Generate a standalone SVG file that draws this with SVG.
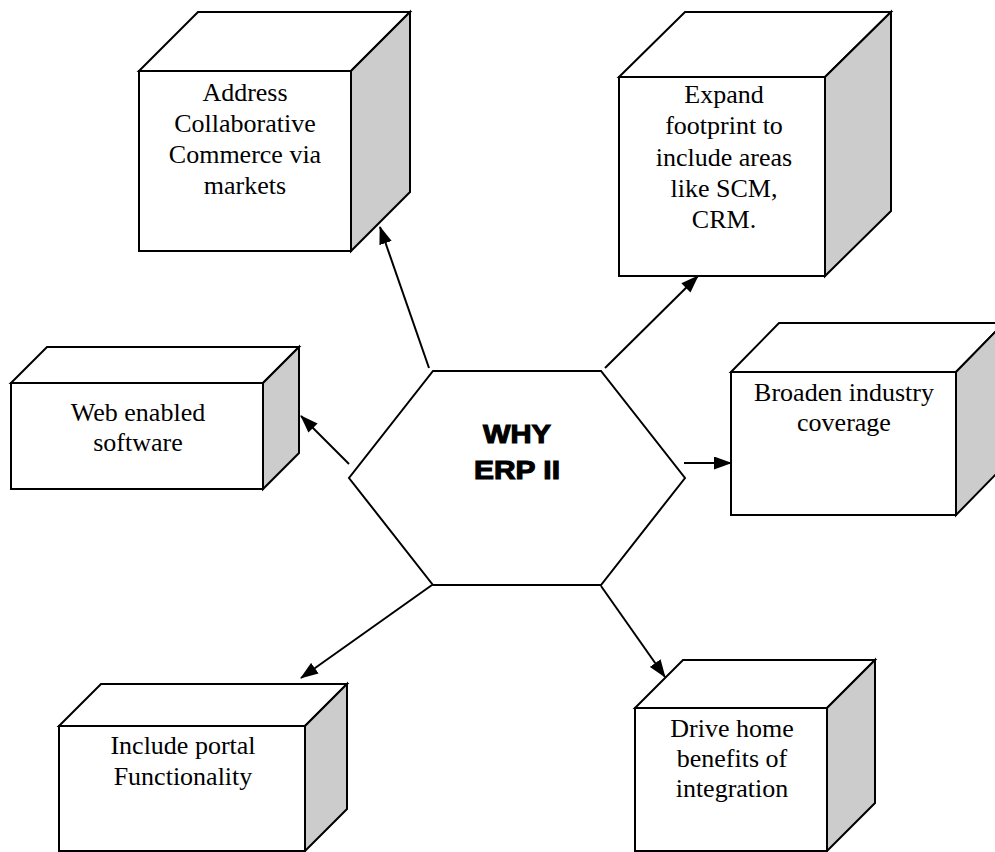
<svg xmlns="http://www.w3.org/2000/svg" width="995" height="852" viewBox="0 0 995 852">
<style>
.face{fill:#ffffff;stroke:#000;stroke-width:2;stroke-linejoin:miter}
.side{fill:#cccccc;stroke:#000;stroke-width:2}
.lbl{font-family:"Liberation Serif","Times New Roman",serif;font-size:26px;fill:#000;text-anchor:middle}
.hex{font-family:"Liberation Sans",Arial,sans-serif;font-weight:bold;font-size:26.5px;fill:#000;stroke:#000;stroke-width:1.1;text-anchor:middle}
.conn{stroke:#000;stroke-width:2;fill:none;marker-end:url(#ah)}
</style>
<defs>
<marker id="ah" markerUnits="userSpaceOnUse" markerWidth="18" markerHeight="13" refX="17" refY="6.5" orient="auto">
<path d="M0,0 L18,6.5 L0,13 z" fill="#000"/>
</marker>
</defs>
<rect width="995" height="852" fill="#fff"/>
<g id="connectors">
<line class="conn" x1="429" y1="368" x2="380" y2="227"/>
<line class="conn" x1="605" y1="368" x2="698" y2="276"/>
<line class="conn" x1="349" y1="464" x2="301" y2="416"/>
<line class="conn" x1="684" y1="463" x2="731" y2="463"/>
<line class="conn" x1="432" y1="585" x2="301" y2="678"/>
<line class="conn" x1="601" y1="586" x2="665" y2="677"/>
</g>
<g id="center">
<polygon class="face" points="433,371 601,371 685,478 601,585 433,585 349,478"/>
<text class="hex" x="517" y="443" textLength="68" lengthAdjust="spacingAndGlyphs">WHY</text>
<text class="hex" x="517" y="479" textLength="86" lengthAdjust="spacingAndGlyphs">ERP II</text>
</g>
<g id="n-address">
<polygon class="face" points="139,71 198,12 410,12 351,71"/>
<polygon class="side" points="351,71 410,12 410,192 351,251"/>
<rect class="face" x="139" y="71" width="212" height="180"/>
<text class="lbl" x="245" y="101">Address</text>
<text class="lbl" x="245" y="132">Collaborative</text>
<text class="lbl" x="245" y="163">Commerce via</text>
<text class="lbl" x="245" y="194">markets</text>
</g>
<g id="n-expand">
<polygon class="face" points="619,77 685,12 891,12 825,77"/>
<polygon class="side" points="825,77 891,12 891,211 825,276"/>
<rect class="face" x="619" y="77" width="206" height="199"/>
<text class="lbl" x="724" y="103">Expand</text>
<text class="lbl" x="724" y="134">footprint to</text>
<text class="lbl" x="724" y="166">include areas</text>
<text class="lbl" x="724" y="197">like SCM,</text>
<text class="lbl" x="724" y="228">CRM.</text>
</g>
<g id="n-web">
<polygon class="face" points="11,383 47,347 299,347 263,383"/>
<polygon class="side" points="263,383 299,347 299,453 263,489"/>
<rect class="face" x="11" y="383" width="252" height="106"/>
<text class="lbl" x="138" y="421">Web enabled</text>
<text class="lbl" x="138" y="451">software</text>
</g>
<g id="n-broaden">
<polygon class="face" points="731,372 779,323 1004,323 956,372"/>
<polygon class="side" points="956,372 1004,323 1004,466 956,515"/>
<rect class="face" x="731" y="372" width="225" height="143"/>
<text class="lbl" x="844" y="401">Broaden industry</text>
<text class="lbl" x="844" y="431">coverage</text>
</g>
<g id="n-portal">
<polygon class="face" points="59,726 101,684 347,684 305,726"/>
<polygon class="side" points="305,726 347,684 347,809 305,851"/>
<rect class="face" x="59" y="726" width="246" height="125"/>
<text class="lbl" x="183" y="754">Include portal</text>
<text class="lbl" x="183" y="785">Functionality</text>
</g>
<g id="n-drive">
<polygon class="face" points="635,708 683,660 875,660 827,708"/>
<polygon class="side" points="827,708 875,660 875,803 827,851"/>
<rect class="face" x="635" y="708" width="192" height="143"/>
<text class="lbl" x="732" y="737">Drive home</text>
<text class="lbl" x="732" y="767">benefits of</text>
<text class="lbl" x="732" y="797">integration</text>
</g>
</svg>
